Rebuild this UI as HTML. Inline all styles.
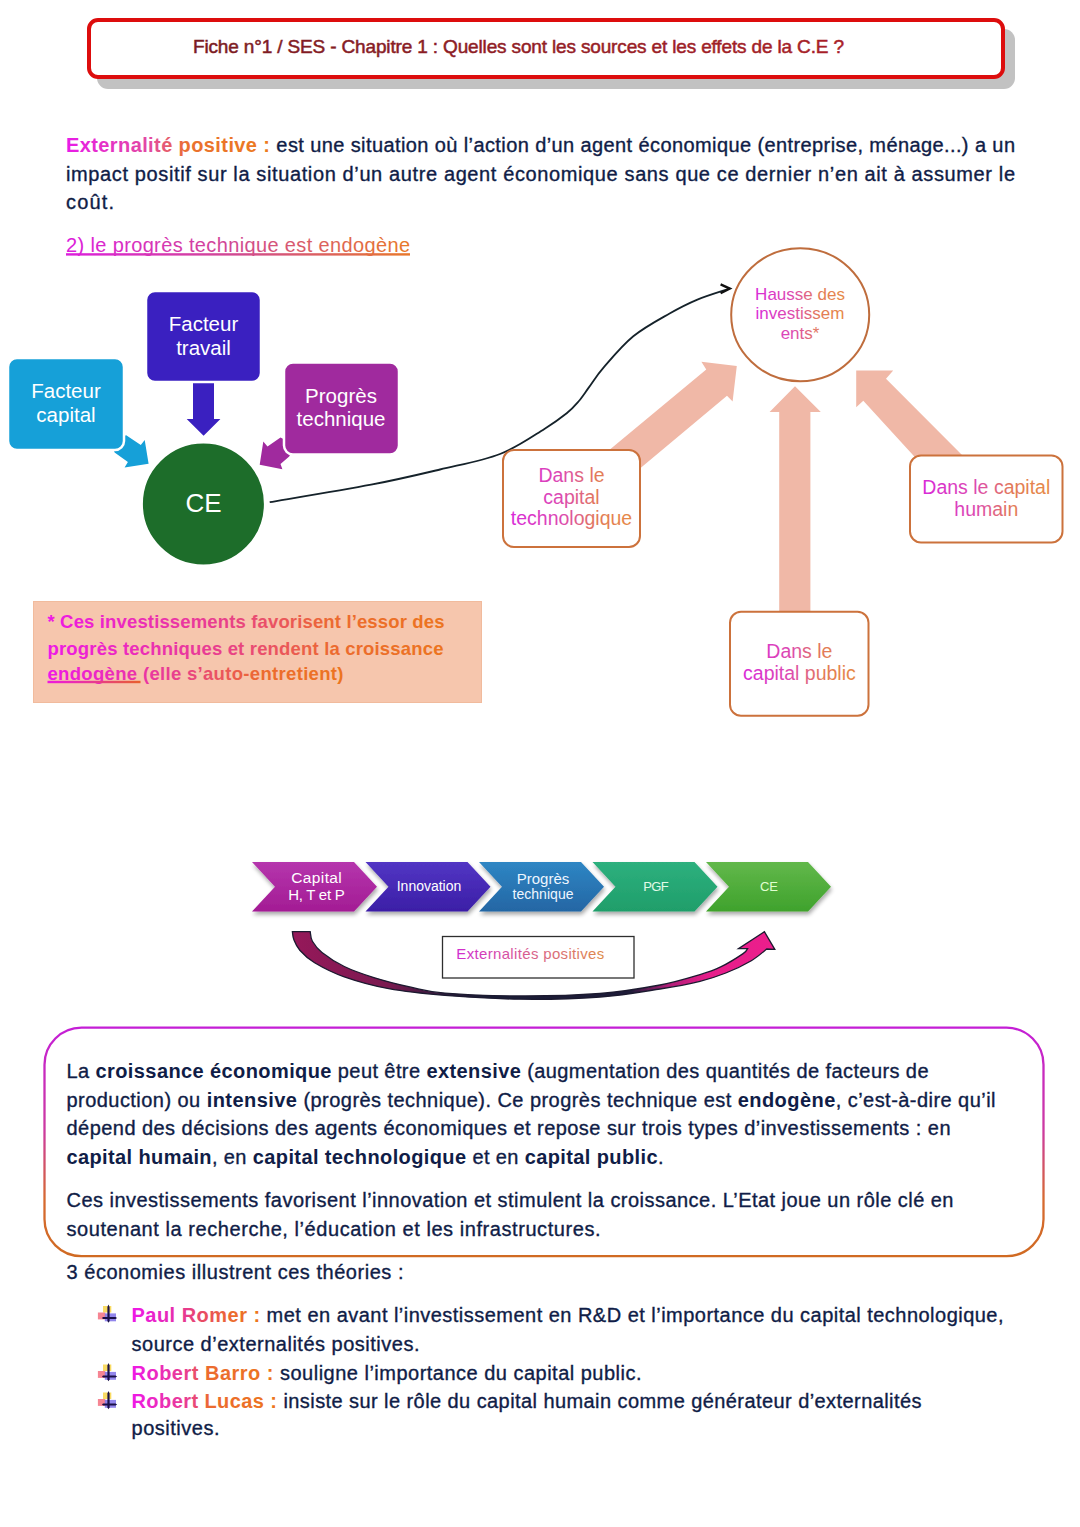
<!DOCTYPE html>
<html><head><meta charset="utf-8"><style>
html,body{margin:0;padding:0;background:#fff;}
svg{display:block;font-family:"Liberation Sans", sans-serif;}

</style></head><body>
<svg width="1080" height="1527" viewBox="0 0 1080 1527">
<defs><linearGradient id="gT" gradientUnits="userSpaceOnUse" x1="193" y1="0" x2="843" y2="0"><stop offset="0" stop-color="#7a1a22"/><stop offset="1" stop-color="#a81e28"/></linearGradient><linearGradient id="gE" gradientUnits="userSpaceOnUse" x1="66" y1="0" x2="268" y2="0"><stop offset="0" stop-color="#e81ce8"/><stop offset="0.42" stop-color="#e24aa0"/><stop offset="0.6" stop-color="#ea7030"/><stop offset="1" stop-color="#ec7a20"/></linearGradient><linearGradient id="gH" gradientUnits="userSpaceOnUse" x1="66" y1="0" x2="410" y2="0"><stop offset="0" stop-color="#dc1edc"/><stop offset="0.5" stop-color="#d04a90"/><stop offset="1" stop-color="#e8782a"/></linearGradient><linearGradient id="gH1" gradientUnits="userSpaceOnUse" x1="753" y1="0" x2="847" y2="0"><stop offset="0" stop-color="#d82ad8"/><stop offset="0.42" stop-color="#dc4ab0"/><stop offset="0.7" stop-color="#e27a5a"/><stop offset="1" stop-color="#e68a48"/></linearGradient><linearGradient id="gD1" gradientUnits="userSpaceOnUse" x1="510" y1="0" x2="634" y2="0"><stop offset="0" stop-color="#d82ad8"/><stop offset="0.42" stop-color="#dc4ab0"/><stop offset="0.7" stop-color="#e27a5a"/><stop offset="1" stop-color="#e68a48"/></linearGradient><linearGradient id="gD2" gradientUnits="userSpaceOnUse" x1="922" y1="0" x2="1050" y2="0"><stop offset="0" stop-color="#d82ad8"/><stop offset="0.42" stop-color="#dc4ab0"/><stop offset="0.7" stop-color="#e27a5a"/><stop offset="1" stop-color="#e68a48"/></linearGradient><linearGradient id="gD3" gradientUnits="userSpaceOnUse" x1="741" y1="0" x2="858" y2="0"><stop offset="0" stop-color="#d82ad8"/><stop offset="0.42" stop-color="#dc4ab0"/><stop offset="0.7" stop-color="#e27a5a"/><stop offset="1" stop-color="#e68a48"/></linearGradient><linearGradient id="gN1" gradientUnits="userSpaceOnUse" x1="47" y1="0" x2="444" y2="0"><stop offset="0" stop-color="#ee18e8"/><stop offset="0.45" stop-color="#e8408a"/><stop offset="0.72" stop-color="#ec6a30"/><stop offset="1" stop-color="#ec7420"/></linearGradient><linearGradient id="gN2" gradientUnits="userSpaceOnUse" x1="47" y1="0" x2="443" y2="0"><stop offset="0" stop-color="#ee18e8"/><stop offset="0.45" stop-color="#e8408a"/><stop offset="0.72" stop-color="#ec6a30"/><stop offset="1" stop-color="#ec7420"/></linearGradient><linearGradient id="gN3" gradientUnits="userSpaceOnUse" x1="47" y1="0" x2="343" y2="0"><stop offset="0" stop-color="#ee18e8"/><stop offset="0.45" stop-color="#e8408a"/><stop offset="0.72" stop-color="#ec6a30"/><stop offset="1" stop-color="#ec7420"/></linearGradient><linearGradient id="gU" gradientUnits="userSpaceOnUse" x1="47" y1="0" x2="141" y2="0"><stop offset="0" stop-color="#ee18e0"/><stop offset="0.5" stop-color="#e83a90"/><stop offset="1" stop-color="#e8602a"/></linearGradient><filter id="sh" x="-10%" y="-20%" width="120%" height="160%"><feGaussianBlur in="SourceAlpha" stdDeviation="2"/><feOffset dx="1" dy="3"/><feComponentTransfer><feFuncA type="linear" slope="0.35"/></feComponentTransfer><feMerge><feMergeNode/><feMergeNode in="SourceGraphic"/></feMerge></filter><linearGradient id="gC0" x1="0" y1="0" x2="0" y2="1"><stop offset="0" stop-color="#b535ad"/><stop offset="1" stop-color="#a31c94"/></linearGradient><linearGradient id="gC1" x1="0" y1="0" x2="0" y2="1"><stop offset="0" stop-color="#5235c4"/><stop offset="1" stop-color="#3b1ea6"/></linearGradient><linearGradient id="gC2" x1="0" y1="0" x2="0" y2="1"><stop offset="0" stop-color="#2e86c4"/><stop offset="1" stop-color="#2466a4"/></linearGradient><linearGradient id="gC3" x1="0" y1="0" x2="0" y2="1"><stop offset="0" stop-color="#2db07e"/><stop offset="1" stop-color="#1f9e6a"/></linearGradient><linearGradient id="gC4" x1="0" y1="0" x2="0" y2="1"><stop offset="0" stop-color="#62b84b"/><stop offset="1" stop-color="#3fa22c"/></linearGradient><linearGradient id="gX" gradientUnits="userSpaceOnUse" x1="456" y1="0" x2="605" y2="0"><stop offset="0" stop-color="#d02cd0"/><stop offset="0.5" stop-color="#d8608e"/><stop offset="1" stop-color="#de8a4a"/></linearGradient><linearGradient id="gA" gradientUnits="userSpaceOnUse" x1="292" y1="0" x2="775" y2="0"><stop offset="0" stop-color="#96185a"/><stop offset="0.2" stop-color="#7a1a50"/><stop offset="0.32" stop-color="#2a1a3a"/><stop offset="0.4" stop-color="#1a1d36"/><stop offset="0.7" stop-color="#1e1c3a"/><stop offset="0.78" stop-color="#b01e78"/><stop offset="0.86" stop-color="#e61e8a"/><stop offset="1" stop-color="#ec1e8c"/></linearGradient><linearGradient id="gB" gradientUnits="userSpaceOnUse" x1="0" y1="1027" x2="0" y2="1257"><stop offset="0" stop-color="#c41ed6"/><stop offset="0.45" stop-color="#cc3aa0"/><stop offset="0.75" stop-color="#d66a30"/><stop offset="1" stop-color="#d06a22"/></linearGradient><linearGradient id="gP1" gradientUnits="userSpaceOnUse" x1="131" y1="0" x2="256" y2="0"><stop offset="0" stop-color="#ee18e8"/><stop offset="0.3" stop-color="#e62ab8"/><stop offset="0.55" stop-color="#e8486a"/><stop offset="0.8" stop-color="#ec6a30"/><stop offset="1" stop-color="#ec7420"/></linearGradient><linearGradient id="gP2" gradientUnits="userSpaceOnUse" x1="131" y1="0" x2="268" y2="0"><stop offset="0" stop-color="#ee18e8"/><stop offset="0.42" stop-color="#e8408a"/><stop offset="0.55" stop-color="#ec6a30"/><stop offset="1" stop-color="#ec7420"/></linearGradient><linearGradient id="gP3" gradientUnits="userSpaceOnUse" x1="131" y1="0" x2="273" y2="0"><stop offset="0" stop-color="#ee18e8"/><stop offset="0.42" stop-color="#e8408a"/><stop offset="0.55" stop-color="#ec6a30"/><stop offset="1" stop-color="#ec7420"/></linearGradient></defs>
<rect x="97" y="29" width="918" height="60" rx="11" fill="#c2c2c2"/>
<rect x="89" y="20" width="914" height="57" rx="9" fill="#fff" stroke="#dd0d0d" stroke-width="4"/>
<text x="193" y="52.5" font-size="19" fill="url(#gT)" textLength="651" lengthAdjust="spacing" stroke="url(#gT)" stroke-width="0.5">Fiche n°1 / SES - Chapitre 1 : Quelles sont les sources et les effets de la C.E ?</text>
<text x="66" y="152" font-size="20" fill="#101d47" textLength="949" lengthAdjust="spacing" stroke="#101d47" stroke-width="0.35"><tspan font-weight="bold" fill="url(#gE)" stroke="none">Externalité positive :</tspan> est une situation où l’action d’un agent économique (entreprise, ménage...) a un</text>
<text x="66" y="180.5" font-size="20" fill="#101d47" textLength="949" lengthAdjust="spacing" stroke="#101d47" stroke-width="0.35">impact positif sur la situation d’un autre agent économique sans que ce dernier n’en ait à assumer le</text>
<text x="66" y="209.3" font-size="20" fill="#101d47" textLength="48" lengthAdjust="spacing" stroke="#101d47" stroke-width="0.35">coût.</text>
<text x="66" y="251.7" font-size="20" fill="url(#gH)" textLength="344" lengthAdjust="spacing">2) le progrès technique est endogène</text>
<rect x="66" y="253.2" width="344" height="2.4" fill="url(#gH)"/>
<polygon points="126.2,435.2 140.8,445 144.7,440.1 148.6,463.7 124.6,467.6 127.9,462.1 114.6,452.4 110,440" fill="#16a0d8"/>
<polygon points="280.5,437.5 267.5,446.6 263.3,441.4 259.7,464.7 282.4,469.3 280.5,464.1 289.2,456.6 295,445" fill="#a02a9e"/>
<polygon points="193,380 214,380 214,419 220.4,419 203.6,435.8 186.7,419 193,419" fill="#3a20c0"/>
<rect x="8" y="358" width="116" height="92" rx="9" fill="#16a0d8" stroke="#fff" stroke-width="2.5"/>
<rect x="146" y="291" width="115" height="91" rx="9" fill="#3a20c0" stroke="#fff" stroke-width="2.5"/>
<rect x="284" y="362.5" width="115" height="92" rx="9" fill="#a02a9e" stroke="#fff" stroke-width="2.5"/>
<circle cx="203.4" cy="504" r="61.5" fill="#1d6d2a" stroke="#fff" stroke-width="2"/>
<text x="66" y="398" font-size="20.5" fill="#fff" text-anchor="middle">Facteur</text>
<text x="66" y="421.5" font-size="20.5" fill="#fff" text-anchor="middle">capital</text>
<text x="203.5" y="331" font-size="20.5" fill="#fff" text-anchor="middle">Facteur</text>
<text x="203.5" y="354.5" font-size="20.5" fill="#fff" text-anchor="middle">travail</text>
<text x="341" y="402.7" font-size="20.5" fill="#fff" text-anchor="middle">Progrès</text>
<text x="341" y="426.4" font-size="20.5" fill="#fff" text-anchor="middle">technique</text>
<text x="203.5" y="512.4" font-size="26" fill="#fff" text-anchor="middle">CE</text>
<path d="M269.7,502.2 C286.6,499.3 342.7,490.1 371.1,484.7 C399.5,479.2 418.5,474.6 440.0,469.5 C461.5,464.4 482.6,460.8 500.0,454.0 C517.4,447.2 533.3,435.7 544.4,428.9 C555.5,422.1 561.0,417.9 566.7,413.3 C572.4,408.7 574.8,405.8 578.5,401.5 C582.2,397.2 584.7,393.1 588.9,387.4 C593.1,381.7 596.3,375.9 603.7,367.4 C611.1,358.9 622.3,345.3 633.3,336.3 C644.3,327.3 658.9,319.6 669.6,313.5 C680.3,307.4 687.4,303.8 697.4,299.6 C707.4,295.4 724.4,290.4 729.8,288.5" fill="none" stroke="#15222a" stroke-width="1.8"/>
<path d="M720.6,284.3 L729.8,288.6 L720.6,293.3" fill="none" stroke="#111" stroke-width="2.4" stroke-linejoin="miter"/>
<polygon points="590,466 706.25,369.4 701.4,361.8 736.8,366 732.6,401.4 727,395.8 625,481" fill="#f0b8a7"/>
<polygon points="779.2,612 779.2,412.1 769.6,412.1 795,386.3 820.8,412.1 810.4,412.1 810.4,612" fill="#f0b8a7"/>
<polygon points="856.2,370.4 893.2,370.4 886,378.8 968,461 923,466 863.3,400.8 856.2,407.3" fill="#f0b8a7"/>
<ellipse cx="800.2" cy="314.8" rx="69" ry="66.5" fill="#fff" stroke="#bf6d3d" stroke-width="2"/>
<rect x="503" y="450" width="137" height="97" rx="11" fill="#fff" stroke="#cc723c" stroke-width="2"/>
<rect x="910" y="455.5" width="152.5" height="87" rx="11" fill="#fff" stroke="#cc723c" stroke-width="2"/>
<rect x="730" y="611.8" width="138.5" height="104" rx="11" fill="#fff" stroke="#cc723c" stroke-width="2"/>
<text x="800" y="299.6" font-size="17" fill="url(#gH1)" text-anchor="middle">Hausse des</text>
<text x="800" y="319.3" font-size="17" fill="url(#gH1)" text-anchor="middle">investissem</text>
<text x="800" y="339" font-size="17" fill="url(#gH1)" text-anchor="middle">ents*</text>
<text x="571.5" y="482" font-size="19.5" fill="url(#gD1)" text-anchor="middle">Dans le</text>
<text x="571.5" y="503.7" font-size="19.5" fill="url(#gD1)" text-anchor="middle">capital</text>
<text x="571.5" y="525" font-size="19.5" fill="url(#gD1)" text-anchor="middle">technologique</text>
<text x="986.3" y="493.8" font-size="19.5" fill="url(#gD2)" text-anchor="middle">Dans le capital</text>
<text x="986.3" y="515.9" font-size="19.5" fill="url(#gD2)" text-anchor="middle">humain</text>
<text x="799.4" y="658" font-size="19.5" fill="url(#gD3)" text-anchor="middle">Dans le</text>
<text x="799.4" y="679.7" font-size="19.5" fill="url(#gD3)" text-anchor="middle">capital public</text>
<rect x="33.5" y="601.5" width="448" height="101" fill="#f6c6ad" stroke="#f1bb9d" stroke-width="1"/>
<text x="47.5" y="627.8" font-size="18.5" fill="url(#gN1)" textLength="397" lengthAdjust="spacing" font-weight="bold">* Ces investissements favorisent l’essor des</text>
<text x="47.5" y="654.5" font-size="18.5" fill="url(#gN2)" textLength="396" lengthAdjust="spacing" font-weight="bold">progrès techniques et rendent la croissance</text>
<text x="47.5" y="680.3" font-size="18.5" fill="url(#gN3)" textLength="296" lengthAdjust="spacing" font-weight="bold">endogène (elle s’auto-entretient)</text>
<rect x="47.5" y="680.8" width="93" height="2.4" fill="url(#gU)"/>
<polygon points="252,862 354,862 377,886.75 354,911.5 252,911.5 275,886.75" fill="url(#gC0)" filter="url(#sh)"/>
<polygon points="365.5,862 467.5,862 490.5,886.75 467.5,911.5 365.5,911.5 388.5,886.75" fill="url(#gC1)" filter="url(#sh)"/>
<polygon points="479,862 581,862 604,886.75 581,911.5 479,911.5 502,886.75" fill="url(#gC2)" filter="url(#sh)"/>
<polygon points="592.5,862 694.5,862 717.5,886.75 694.5,911.5 592.5,911.5 615.5,886.75" fill="url(#gC3)" filter="url(#sh)"/>
<polygon points="706,862 808,862 831,886.75 808,911.5 706,911.5 729,886.75" fill="url(#gC4)" filter="url(#sh)"/>
<text x="316.5" y="882.5" font-size="15.5" fill="#fff" textLength="50.5" lengthAdjust="spacing" text-anchor="middle">Capital</text>
<text x="316.5" y="900" font-size="15" fill="#fff" textLength="56.5" lengthAdjust="spacing" text-anchor="middle">H, T et P</text>
<text x="429" y="891.4" font-size="14" fill="#fff" textLength="64.5" lengthAdjust="spacing" text-anchor="middle">Innovation</text>
<text x="543" y="883.7" font-size="15" fill="#eef6ff" textLength="52.7" lengthAdjust="spacing" text-anchor="middle">Progrès</text>
<text x="543" y="899.4" font-size="14" fill="#eef6ff" textLength="61" lengthAdjust="spacing" text-anchor="middle">technique</text>
<text x="656" y="891" font-size="13" fill="#e2fbe8" textLength="25.5" lengthAdjust="spacing" text-anchor="middle">PGF</text>
<text x="769" y="890.7" font-size="13" fill="#e0ffd0" textLength="18" lengthAdjust="spacing" text-anchor="middle">CE</text>
<rect x="442.5" y="936.5" width="191.5" height="41.5" fill="#fff" stroke="#2e2e2e" stroke-width="1.3"/>
<text x="456.3" y="959.4" font-size="15" fill="url(#gX)" textLength="148" lengthAdjust="spacing">Externalités positives</text>
<path d="M292.4,931.7 C292.6,933.1 292.7,936.7 293.9,939.8 C295.1,942.9 296.4,946.4 299.8,950.2 C303.2,954.0 307.2,958.3 314.6,962.8 C322.0,967.2 332.0,972.6 344.3,976.9 C356.6,981.2 371.9,985.6 388.7,988.7 C405.5,991.8 423.1,993.6 445.0,995.4 C466.9,997.1 494.2,998.9 520.0,999.2 C545.8,999.5 576.7,998.7 600.0,997.0 C623.3,995.3 643.3,991.6 660.0,989.0 C676.7,986.4 689.0,984.0 700.0,981.3 C711.0,978.6 717.2,976.4 725.8,973.0 C734.3,969.6 744.5,964.7 751.3,960.7 C758.1,956.7 764.1,951.0 766.7,949.0 L774.8,949.4 L764.4,931.7 L738.5,948.7 L747.4,948.7 C746.7,949.5 747.5,950.6 743.1,953.6 C738.7,956.6 727.9,963.4 720.7,966.9 C713.5,970.4 710.1,971.6 700.0,974.6 C689.9,977.6 676.7,981.9 660.0,985.0 C643.3,988.1 623.3,991.7 600.0,993.5 C576.7,995.3 545.8,996.1 520.0,996.0 C494.2,995.9 463.2,994.6 445.0,993.1 C426.8,991.6 422.8,989.8 410.9,987.2 C399.0,984.6 385.0,981.1 373.9,977.6 C362.8,974.1 352.9,970.7 344.3,966.5 C335.7,962.3 327.3,956.6 322.0,952.4 C316.7,948.2 314.4,944.8 312.4,941.3 C310.4,937.8 310.6,933.3 310.2,931.7 Z" fill="url(#gA)" stroke="#1c1a30" stroke-width="1.3" stroke-linejoin="miter"/>
<rect x="44.5" y="1027.7" width="999" height="228.5" rx="37" fill="#fff" stroke="url(#gB)" stroke-width="2.3"/>
<text x="66.5" y="1078" font-size="20" fill="#101d47" textLength="862" lengthAdjust="spacing" stroke="#101d47" stroke-width="0.35">La <tspan font-weight="bold" stroke="none">croissance économique</tspan> peut être <tspan font-weight="bold" stroke="none">extensive</tspan> (augmentation des quantités de facteurs de</text>
<text x="66.5" y="1106.5" font-size="20" fill="#101d47" textLength="929" lengthAdjust="spacing" stroke="#101d47" stroke-width="0.35">production) ou <tspan font-weight="bold" stroke="none">intensive</tspan> (progrès technique). Ce progrès technique est <tspan font-weight="bold" stroke="none">endogène</tspan>, c’est-à-dire qu’il</text>
<text x="66.5" y="1135.3" font-size="20" fill="#101d47" textLength="884" lengthAdjust="spacing" stroke="#101d47" stroke-width="0.35">dépend des décisions des agents économiques et repose sur trois types d’investissements : en</text>
<text x="66.5" y="1164" font-size="20" fill="#101d47" textLength="597" lengthAdjust="spacing" stroke="#101d47" stroke-width="0.35"><tspan font-weight="bold" stroke="none">capital humain</tspan>, en <tspan font-weight="bold" stroke="none">capital technologique</tspan> et en <tspan font-weight="bold" stroke="none">capital public</tspan>.</text>
<text x="66.5" y="1207.2" font-size="20" fill="#101d47" textLength="887" lengthAdjust="spacing" stroke="#101d47" stroke-width="0.35">Ces investissements favorisent l’innovation et stimulent la croissance. L’Etat joue un rôle clé en</text>
<text x="66.5" y="1235.8" font-size="20" fill="#101d47" textLength="534" lengthAdjust="spacing" stroke="#101d47" stroke-width="0.35">soutenant la recherche, l’éducation et les infrastructures.</text>
<text x="66.5" y="1279" font-size="20" fill="#101d47" textLength="337" lengthAdjust="spacing" stroke="#101d47" stroke-width="0.35">3 économies illustrent ces théories :</text>
<g transform="translate(108.5,1318)"><rect x="-5.5" y="-12" width="8.3" height="6.5" fill="#f8d548" opacity="0.85"/><rect x="-10.6" y="-5.5" width="7.4" height="6.9" fill="#f47080" opacity="0.85"/><rect x="-3.7" y="-4.6" width="11.2" height="7.9" fill="#6e5ee6" opacity="0.75"/><polygon points="0,-13.6 1.1,-11 1.1,3 0,4.8 -1.1,3 -1.1,-11" fill="#1a1048"/><polygon points="-5.5,-1.1 7,-1.1 8.6,0 7,1.1 -5.5,1.1 -6.5,0" fill="#1a1048"/></g>
<g transform="translate(108.5,1376.5)"><rect x="-5.5" y="-12" width="8.3" height="6.5" fill="#f8d548" opacity="0.85"/><rect x="-10.6" y="-5.5" width="7.4" height="6.9" fill="#f47080" opacity="0.85"/><rect x="-3.7" y="-4.6" width="11.2" height="7.9" fill="#6e5ee6" opacity="0.75"/><polygon points="0,-13.6 1.1,-11 1.1,3 0,4.8 -1.1,3 -1.1,-11" fill="#1a1048"/><polygon points="-5.5,-1.1 7,-1.1 8.6,0 7,1.1 -5.5,1.1 -6.5,0" fill="#1a1048"/></g>
<g transform="translate(108.5,1404.5)"><rect x="-5.5" y="-12" width="8.3" height="6.5" fill="#f8d548" opacity="0.85"/><rect x="-10.6" y="-5.5" width="7.4" height="6.9" fill="#f47080" opacity="0.85"/><rect x="-3.7" y="-4.6" width="11.2" height="7.9" fill="#6e5ee6" opacity="0.75"/><polygon points="0,-13.6 1.1,-11 1.1,3 0,4.8 -1.1,3 -1.1,-11" fill="#1a1048"/><polygon points="-5.5,-1.1 7,-1.1 8.6,0 7,1.1 -5.5,1.1 -6.5,0" fill="#1a1048"/></g>
<text x="131.5" y="1321.5" font-size="20" fill="#101d47" textLength="872" lengthAdjust="spacing" stroke="#101d47" stroke-width="0.35"><tspan font-weight="bold" fill="url(#gP1)" stroke="none">Paul Romer :</tspan> met en avant l’investissement en R&amp;D et l’importance du capital technologique,</text>
<text x="131.5" y="1351" font-size="20" fill="#101d47" textLength="288" lengthAdjust="spacing" stroke="#101d47" stroke-width="0.35">source d’externalités positives.</text>
<text x="131.5" y="1379.5" font-size="20" fill="#101d47" textLength="510" lengthAdjust="spacing" stroke="#101d47" stroke-width="0.35"><tspan font-weight="bold" fill="url(#gP2)" stroke="none">Robert Barro :</tspan> souligne l’importance du capital public.</text>
<text x="131.5" y="1407.5" font-size="20" fill="#101d47" textLength="790" lengthAdjust="spacing" stroke="#101d47" stroke-width="0.35"><tspan font-weight="bold" fill="url(#gP3)" stroke="none">Robert Lucas :</tspan> insiste sur le rôle du capital humain comme générateur d’externalités</text>
<text x="131.5" y="1435.3" font-size="20" fill="#101d47" textLength="88" lengthAdjust="spacing" stroke="#101d47" stroke-width="0.35">positives.</text>
</svg>
</body></html>
